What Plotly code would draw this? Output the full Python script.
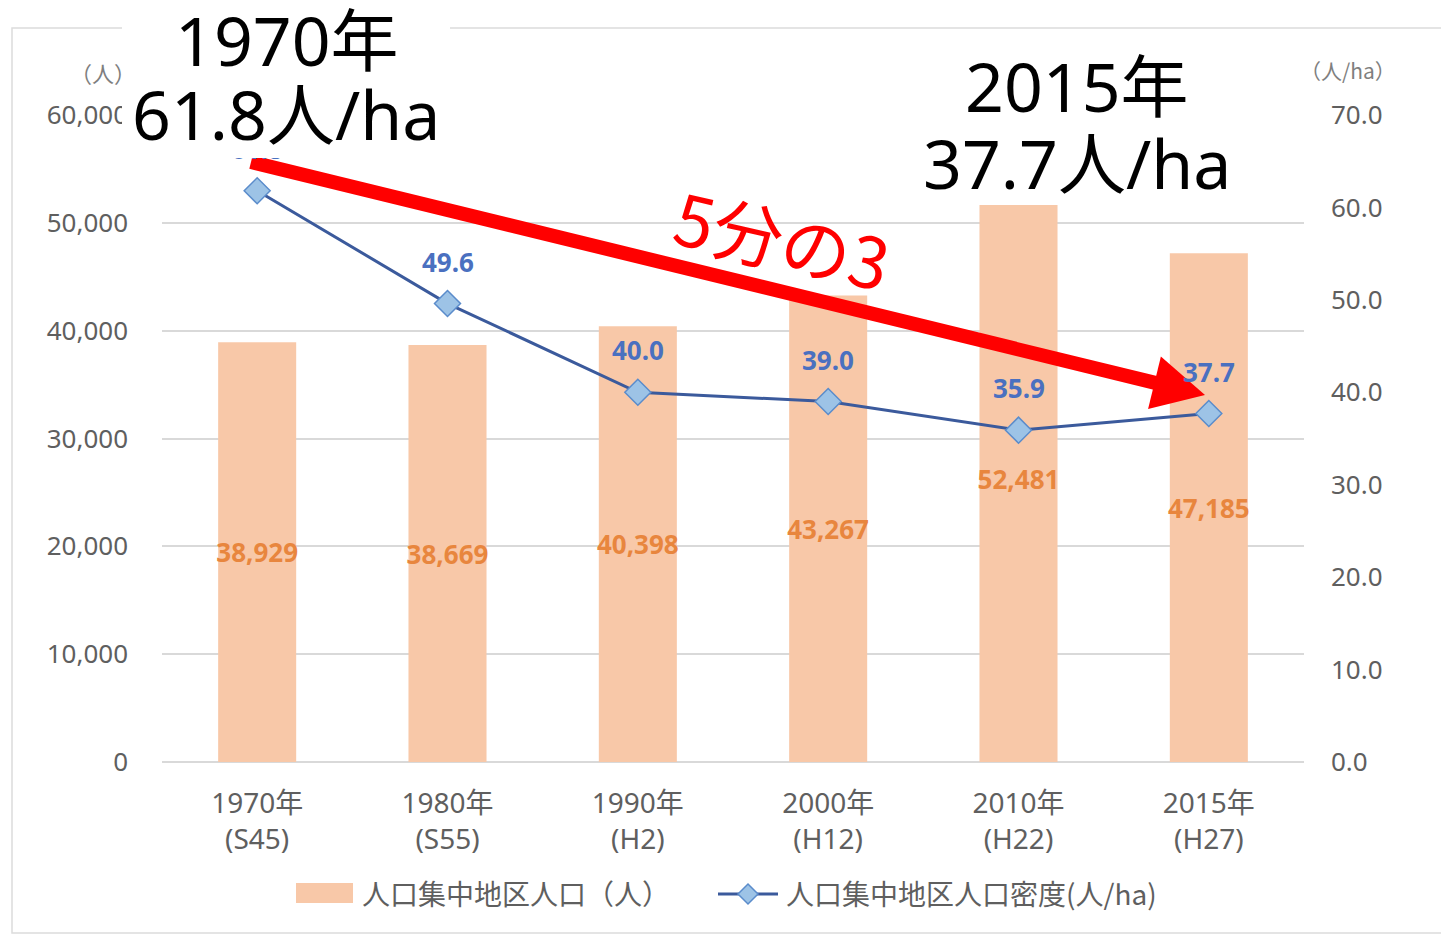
import plotly.graph_objects as go

# ---- data ----
years = ["1970年", "1980年", "1990年", "2000年", "2010年", "2015年"]
eras = ["(S45)", "(S55)", "(H2)", "(H12)", "(H22)", "(H27)"]
did_population = [38929, 38669, 40398, 43267, 52481, 47185]
did_density = [61.8, 49.6, 40.0, 39.0, 35.9, 37.7]
series_names = ["人口集中地区人口（人）", "人口集中地区人口密度(人/ha)"]
left_unit = "（人）"
right_unit = "（人/ha）"
callout_start = ["1970年", "61.8人/ha"]
callout_end = ["2015年", "37.7人/ha"]
ratio_text = "5分の3"

categories = [f"{y}<br>{e}" for y, e in zip(years, eras)]

# ---- layout geometry (pixels) ----
W, H = 1441, 936
L, R, T, B = 162, 1304, 115, 762
PW, PH = R - L, B - T


def px(x):
    return (x - L) / PW


def py(y):
    return (B - y) / PH


BAR = "#F8C8A8"
BAR_TXT = "#E8863E"
LINE = "#3B5A9C"
MK = "#9DC3E6"
MK_EDGE = "#5B8CCB"
LBL_BLUE = "#4A70C0"
GRAY = "#5F5F5F"
GRID = "#D9D9D9"
TICK_FONT = "Noto Sans, Noto Sans CJK JP, sans-serif"
CJK_FONT = "Noto Sans CJK JP, Noto Sans, sans-serif"

fig = go.Figure()

fig.add_trace(go.Bar(
    x=categories, y=did_population, name=series_names[0],
    marker=dict(color=BAR, line=dict(width=0)), width=0.41,
    text=[f"{v:,}" for v in did_population], textposition="inside", textangle=0,
    insidetextanchor="middle", constraintext="none",
    textfont=dict(family=TICK_FONT, size=26, color=BAR_TXT, weight="bold"),
    yaxis="y", showlegend=False,
))

fig.add_trace(go.Scatter(
    x=categories, y=did_density, name=series_names[1], yaxis="y2",
    mode="lines+markers",
    line=dict(color=LINE, width=3),
    marker=dict(symbol="diamond", size=20, color=MK, line=dict(color=MK_EDGE, width=1.5)),
    showlegend=False, cliponaxis=False,
))

annotations = []

# density value labels above each point
for c, v in zip(categories, did_density):
    annotations.append(dict(
        x=c, y=v, xref="x", yref="y2", text=f"{v:.1f}", showarrow=False,
        yshift=42, font=dict(family=TICK_FONT, size=26, color=LBL_BLUE, weight="bold"),
    ))

# axis unit labels
annotations.append(dict(x=px(68), y=py(72), xref="paper", yref="paper", text=left_unit,
                        showarrow=False, xanchor="left", yanchor="middle",
                        font=dict(family=CJK_FONT, size=22, color="#7F7F7F")))
annotations.append(dict(x=px(1348), y=py(70), xref="paper", yref="paper", text=right_unit,
                        showarrow=False, xanchor="center", yanchor="middle",
                        font=dict(family=CJK_FONT, size=21, color="#7F7F7F")))

# white panels behind the callouts
for (x0, y0, x1, y1) in [(122, 0, 450, 158), (912, 45, 1235, 205)]:
    annotations.append(dict(x=px(x0), y=py(y0), xref="paper", yref="paper", text=" ",
                            showarrow=False, xanchor="left", yanchor="top",
                            width=x1 - x0, height=y1 - y0, borderpad=0, borderwidth=0,
                            bgcolor="white", align="center"))

# callout texts
for txt, (cx, cy) in zip(callout_start + callout_end,
                         [(287, 40), (286, 113), (1077, 85), (1077, 162)]):
    annotations.append(dict(x=px(cx), y=py(cy), xref="paper", yref="paper", text=txt,
                            showarrow=False, xanchor="center", yanchor="middle",
                            font=dict(family=TICK_FONT, size=68, color="black")))

annotations.append(dict(x=px(783), y=py(238), xref="paper", yref="paper", text=ratio_text,
                        showarrow=False, xanchor="center", yanchor="middle", textangle=13,
                        font=dict(family=CJK_FONT, size=70, color="#FF0000")))

# manual legend
annotations.append(dict(x=px(360), y=py(893), xref="paper", yref="paper", text=series_names[0],
                        showarrow=False, xanchor="left", yanchor="middle",
                        font=dict(family=CJK_FONT, size=28, color=GRAY)))
annotations.append(dict(x=px(784), y=py(893), xref="paper", yref="paper", text=series_names[1],
                        showarrow=False, xanchor="left", yanchor="middle",
                        font=dict(family=CJK_FONT, size=28, color=GRAY)))

shapes = []
# outer frame
shapes.append(dict(type="rect", xref="paper", yref="paper", x0=px(12), y0=py(28), x1=px(1460),
                   y1=py(933), line=dict(color="#DCDCDC", width=1.5), layer="below"))

# legend swatches
shapes.append(dict(type="rect", xref="paper", yref="paper", x0=px(296), x1=px(353),
                   y0=py(883), y1=py(903), fillcolor=BAR, line=dict(width=0), layer="above"))
shapes.append(dict(type="line", xref="paper", yref="paper", x0=px(718), x1=px(778),
                   y0=py(894), y1=py(894), line=dict(color=LINE, width=3), layer="above"))
dx, dy = 10, 10
shapes.append(dict(type="path", xref="paper", yref="paper",
                   path=(f"M{px(748 - dx)},{py(894)} L{px(748)},{py(894 - dy)} "
                         f"L{px(748 + dx)},{py(894)} L{px(748)},{py(894 + dy)} Z"),
                   fillcolor=MK, line=dict(color=MK_EDGE, width=1.5), layer="above"))

# red arrow
tail = (251, 162)
tip = (1205, 395)
ux, uy = tip[0] - tail[0], tip[1] - tail[1]
n = (ux ** 2 + uy ** 2) ** 0.5
ux, uy = ux / n, uy / n
head_len, head_half = 52, 27
bx, by = tip[0] - head_len * ux, tip[1] - head_len * uy
c1 = (bx - head_half * uy, by + head_half * ux)
c2 = (bx + head_half * uy, by - head_half * ux)
shapes.append(dict(type="line", xref="paper", yref="paper",
                   x0=px(tail[0]), y0=py(tail[1]), x1=px(bx + 4 * ux), y1=py(by + 4 * uy),
                   line=dict(color="#FF0000", width=14), layer="above"))
shapes.append(dict(type="path", xref="paper", yref="paper",
                   path=(f"M{px(tip[0])},{py(tip[1])} L{px(c1[0])},{py(c1[1])} "
                         f"L{px(c2[0])},{py(c2[1])} Z"),
                   fillcolor="#FF0000", line=dict(width=0), layer="above"))

fig.update_layout(
    width=W, height=H,
    margin=dict(l=L, r=W - R, t=T, b=H - B, pad=0),
    paper_bgcolor="white", plot_bgcolor="white",
    showlegend=False, bargap=0.59,
    xaxis=dict(type="category", showgrid=False, showline=False, zeroline=False, ticks="",
               tickfont=dict(family=TICK_FONT, size=28, color=GRAY), ticklabelstandoff=22),
    yaxis=dict(range=[0, 60000], dtick=10000, tickformat=",", showgrid=True, gridcolor=GRID,
               gridwidth=1.5, zeroline=True, zerolinecolor=GRID, zerolinewidth=1.5,
               showline=False, ticks="",
               tickfont=dict(family=TICK_FONT, size=26, color=GRAY), ticklabelstandoff=33),
    yaxis2=dict(range=[0, 70], dtick=10, tickformat=".1f", overlaying="y", side="right",
                showgrid=False, zeroline=False, showline=False, ticks="",
                tickfont=dict(family=TICK_FONT, size=26, color=GRAY), ticklabelstandoff=26),
    annotations=annotations, shapes=shapes,
)

fig.write_html("out.html")
